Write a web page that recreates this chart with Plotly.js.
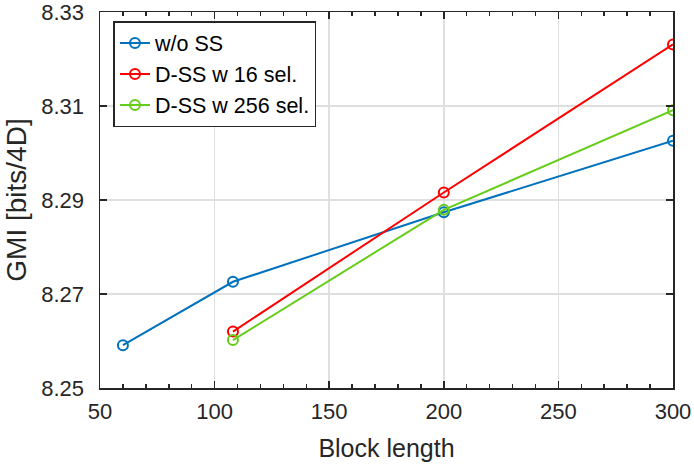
<!DOCTYPE html>
<html>
<head>
<meta charset="utf-8">
<script src="https://cdn.plot.ly/plotly-3.0.1.min.js"></script>
<style>html,body{margin:0;padding:0;background:#fff;}#chart{width:694px;height:468px;}</style>
</head>
<body>
<div id="chart"></div>
<script>
const seriesNames = ["w/o SS", "D-SS w 16 sel.", "D-SS w 256 sel."];
const xNoSS = [60, 108, 200, 300];
const yNoSS = [8.2591, 8.2726, 8.2874, 8.3026];
const xDSS16 = [108, 200, 300];
const yDSS16 = [8.2620, 8.2916, 8.3231];
const xDSS256 = [108, 200, 300];
const yDSS256 = [8.2602, 8.2879, 8.3091];
const colors = ["#0072BD", "#FF0000", "#66CC1A"];
const xTicks = [50, 100, 150, 200, 250, 300];
const yTicks = [8.25, 8.27, 8.29, 8.31, 8.33];

const FONT = 'Liberation Sans, Arial, sans-serif';

const mk = (x, y, name, c) => ({
  x: x, y: y, name: name, type: 'scatter', mode: 'lines+markers',
  line: {color: c, width: 2},
  marker: {symbol: 'circle-open', size: 10, color: c, line: {width: 2, color: c}}
});

const data = [
  mk(xNoSS, yNoSS, seriesNames[0], colors[0]),
  mk(xDSS16, yDSS16, seriesNames[1], colors[1]),
  mk(xDSS256, yDSS256, seriesNames[2], colors[2])
];

const axisCommon = {
  showline: true, linecolor: '#262626', linewidth: 1.5, mirror: 'ticks',
  ticks: 'inside', ticklen: 7, tickcolor: '#262626', tickwidth: 1.5,
  showgrid: true, gridcolor: '#dfdfdf', gridwidth: 1.5, zeroline: false,
  ticklabeloverflow: 'allow',
  tickfont: {family: FONT, size: 22, color: '#262626'}
};

const layout = {
  width: 694, height: 468,
  margin: {l: 99.5, r: 21, t: 12, b: 80},
  paper_bgcolor: '#fff', plot_bgcolor: '#fff',
  showlegend: true,
  font: {family: FONT, color: '#262626'},
  xaxis: Object.assign({}, axisCommon, {
    range: [50, 300], tickvals: xTicks, ticktext: xTicks.map(String),
    ticklabelstandoff: 3,
    minor: {dtick: 10, tick0: 50, ticks: 'inside', ticklen: 4, tickcolor: '#262626', tickwidth: 1.5, showgrid: false},
    title: {text: 'Block length', font: {family: FONT, size: 25, color: '#262626'}, standoff: 16}
  }),
  yaxis: Object.assign({}, axisCommon, {
    range: [8.25, 8.33], tickvals: yTicks, ticktext: yTicks.map(v => v.toFixed(2)),
    ticklabelstandoff: 10,
    title: {text: 'GMI [bits/4D]', font: {family: FONT, size: 28, color: '#262626'}, standoff: 6}
  }),
  legend: {
    x: 0.0235, y: 0.976, xanchor: 'left', yanchor: 'top',
    bgcolor: '#fff', bordercolor: '#262626', borderwidth: 1.5,
    font: {family: FONT, size: 21.5, color: '#000'}, tracegroupgap: 0, itemwidth: 30,
    entrywidth: 222, entrywidthmode: 'pixels'
  }
};

Plotly.newPlot('chart', data, layout, {staticPlot: true});
</script>
</body>
</html>
